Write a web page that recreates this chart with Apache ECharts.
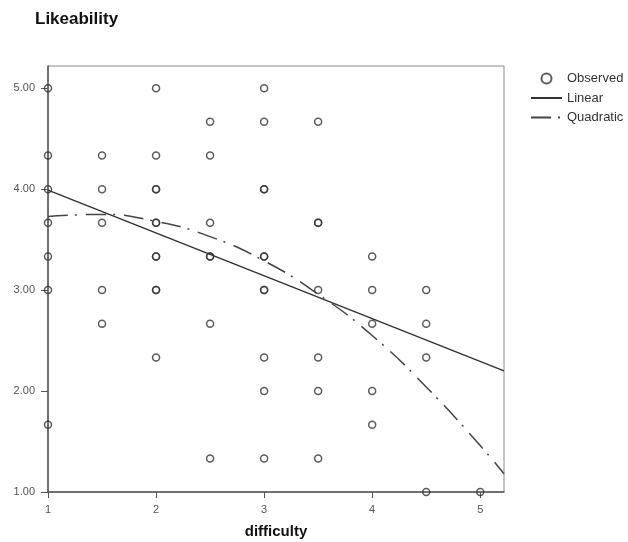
<!DOCTYPE html>
<html><head><meta charset="utf-8">
<script src="https://cdn.jsdelivr.net/npm/echarts@6/dist/echarts.min.js"></script>
<style>html,body{margin:0;padding:0;background:#fff}#c{width:628px;height:542px}</style>
</head><body><div id="c"></div>
<script>
const chartTitle = 'Likeability';
const xName = 'difficulty';
const xTicks = [1, 2, 3, 4, 5];
const yTicks = [1, 2, 3, 4, 5];
const legendNames = ['Observed', 'Linear', 'Quadratic'];

// Observed points (duplicates = overlapping, darker circles)
const obsX = [
  1, 1, 1, 1, 1, 1, 1,
  1.5, 1.5, 1.5, 1.5, 1.5,
  2, 2, 2, 2, 2, 2, 2, 2, 2, 2, 2,
  2.5, 2.5, 2.5, 2.5, 2.5, 2.5, 2.5,
  3, 3, 3, 3, 3, 3, 3, 3, 3, 3, 3,
  3.5, 3.5, 3.5, 3.5, 3.5, 3.5, 3.5,
  4, 4, 4, 4, 4,
  4.5, 4.5, 4.5, 4.5,
  5
];
const obsY = [
  5, 4.333, 4, 3.667, 3.333, 3, 1.667,
  4.333, 4, 3.667, 3, 2.667,
  5, 4.333, 4, 4, 3.667, 3.667, 3.333, 3.333, 3, 3, 2.333,
  4.667, 4.333, 3.667, 3.333, 3.333, 2.667, 1.333,
  5, 4.667, 4, 4, 3.333, 3.333, 3, 3, 2.333, 2, 1.333,
  4.667, 3.667, 3.667, 3, 2.333, 2, 1.333,
  3.333, 3, 2.667, 2, 1.667,
  3, 2.667, 2.333, 1,
  1
];

const linearX = [1, 5.22];
const linearY = [3.99, 2.20];

const quadX = [1, 1.5, 2, 2.5, 3, 3.5, 4, 4.5, 5, 5.22];
const quadY = [3.73, 3.75, 3.68, 3.53, 3.29, 2.96, 2.55, 2.04, 1.46, 1.18];

const zip = (a, b) => a.map((v, i) => [v, b[i]]);
const font = 'Liberation Sans, Arial, sans-serif';

const chart = echarts.init(document.getElementById('c'), null, {renderer: 'canvas'});
chart.setOption({
  animation: false,
  textStyle: {fontFamily: font},
  title: {
    text: chartTitle, left: 35, top: 11, padding: 0,
    textStyle: {fontSize: 17, fontWeight: 'bold', color: '#111', fontFamily: font}
  },
  legend: {
    orient: 'vertical', left: 530, top: 72, padding: 0,
    itemWidth: 31, itemHeight: 10, itemGap: 6.5,
    textStyle: {fontSize: 13, color: '#333', fontFamily: font},
    data: [
      {name: legendNames[0]},
      {name: legendNames[1], itemStyle: {opacity: 0}},
      {name: legendNames[2], itemStyle: {opacity: 0}}
    ]
  },
  grid: {
    left: 48, right: 124, top: 66, bottom: 50,
    outerBoundsMode: 'none',
    show: true, borderColor: '#8a8a8a', borderWidth: 1
  },
  xAxis: {
    type: 'value', min: 1, max: 5.22,
    name: xName, nameLocation: 'middle', nameGap: 32,
    nameTextStyle: {fontSize: 15, fontWeight: 'bold', color: '#111', fontFamily: font},
    axisLine: {show: true, onZero: false, lineStyle: {color: '#555', width: 1.5}},
    axisTick: {show: true, customValues: xTicks, length: 6, lineStyle: {color: '#555', width: 1}},
    axisLabel: {customValues: xTicks, formatter: v => String(v), fontSize: 11, color: '#555', margin: 12},
    splitLine: {show: false}
  },
  yAxis: {
    type: 'value', min: 1, max: 5.22,
    axisLine: {show: true, onZero: false, lineStyle: {color: '#555', width: 1.5}},
    axisTick: {show: true, customValues: yTicks, length: 7, lineStyle: {color: '#555', width: 1}},
    axisLabel: {customValues: yTicks, formatter: v => v.toFixed(2), fontSize: 11, color: '#555', margin: 13},
    splitLine: {show: false}
  },
  series: [
    {
      name: 'Observed', type: 'scatter', z: 5,
      symbol: 'circle', symbolSize: 7,
      itemStyle: {color: 'rgba(255,255,255,0)', borderColor: '#333', borderWidth: 1.5},
      emphasis: {disabled: true},
      data: zip(obsX, obsY)
    },
    {
      name: 'Linear', type: 'line', z: 3,
      symbol: 'none', showSymbol: false,
      lineStyle: {color: '#333', width: 1.5, type: 'solid'},
      itemStyle: {color: '#333'},
      emphasis: {disabled: true},
      data: zip(linearX, linearY)
    },
    {
      name: 'Quadratic', type: 'line', z: 3,
      symbol: 'none', showSymbol: false, smooth: true,
      lineStyle: {color: '#444', width: 1.5, type: [20, 7, 2, 9]},
      itemStyle: {color: '#444'},
      emphasis: {disabled: true},
      data: zip(quadX, quadY)
    }
  ]
});
</script>
</body></html>
